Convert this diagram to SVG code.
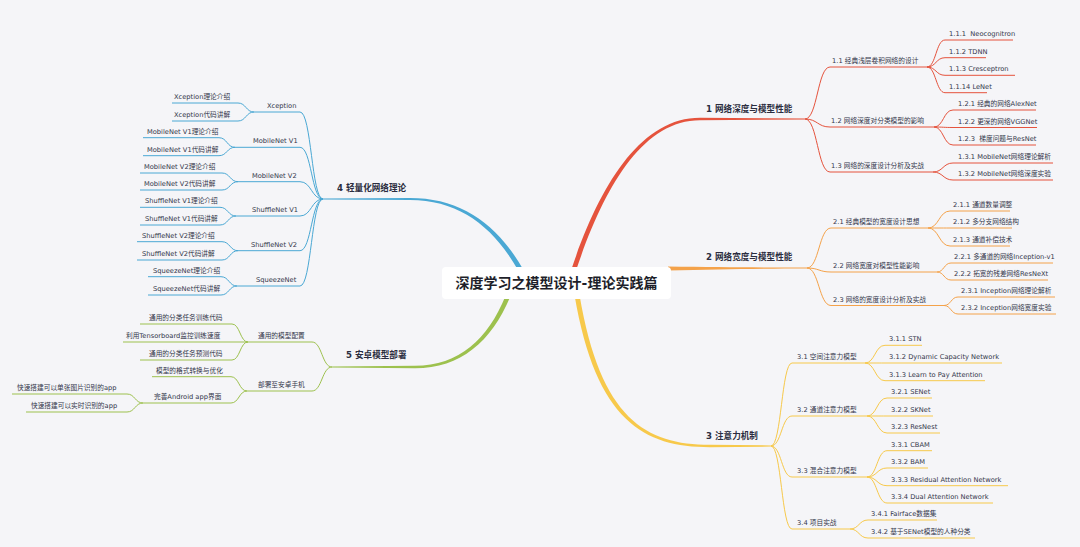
<svg xmlns="http://www.w3.org/2000/svg" width="1080" height="547" viewBox="0 0 1080 547">
<style>
.t{font-family:"DejaVu Sans","Noto Sans CJK SC",sans-serif;font-size:6.7px;fill:#33364a;white-space:pre}
.h{font-family:"DejaVu Sans","Noto Sans CJK SC",sans-serif;font-size:8.6px;font-weight:bold;fill:#2b2d40}
.c{font-family:"DejaVu Sans","Noto Sans CJK SC",sans-serif;font-size:14px;font-weight:bold;fill:#1e1f2a}
.l{fill:none;stroke-width:1}
.r{stroke:#e5533d}.o{stroke:#f4a24a}.y{stroke:#f7c94b}.b{stroke:#4aa8d4}.g{stroke:#9dc14e}
</style>
<rect width="1080" height="547" fill="#f5f5f8"/>
<g id="connectors">
<path fill="#e5533d" d="M570.5,272 C598,189 639,117.8 700,117.8 L805,118.4 L805,119.6 L700,120.2 C641,120.2 602.5,191 575.5,272 Z"/>
<path fill="#f4a24a" d="M668,266.5 C720,267 760,267.6 807,267.6 L807,268.6 C760,268.6 720,269.5 668,270.5 Z"/>
<path fill="#f7c94b" d="M574.5,295 C596,421 644,447.2 710,447.2 L771,446.6 L771,445.4 L710,444.8 C646,444.8 600.5,419 579.5,295 Z"/>
<path fill="#4aa8d4" d="M523.5,270 C497,223.5 461,197.9 410,197.9 L323,198.4 L323,199.6 L410,200.1 C459,200.1 493,226.5 518,270 Z"/>
<path fill="#9dc14e" d="M505.5,296 C488,339 459,365.8 415,365.8 L332,366.4 L332,367.6 L415,368.2 C461,368.2 492,341 510.5,296 Z"/>
<g class="l r">
<path d="M805,119 C817.5,119 817.5,67 830,67 H927"/>
<path d="M805,119 C817.5,119 817.5,127 830,127 H934"/>
<path d="M805,119 C817.5,119 817.5,172 830,172 H933"/>
<path d="M927,67 C936,67 936,40 945,40 H1013"/>
<path d="M927,67 C936,67 936,57.7 945,57.7 H986"/>
<path d="M927,67 C936,67 936,75.3 945,75.3 H1015"/>
<path d="M927,67 C936,67 936,92.7 945,92.7 H987"/>
<path d="M934,127 C943.5,127 943.5,110 953,110 H1036"/>
<path d="M934,127 C943.5,127 943.5,127.5 953,127.5 H1037"/>
<path d="M934,127 C943.5,127 943.5,145 953,145 H1036"/>
<path d="M933,172 C943,172 943,163 953,163 H1053"/>
<path d="M933,172 C943,172 943,180 953,180 H1053"/>
</g>
<g class="l o">
<path d="M807,268 C819,268 819,228 831,228 H928"/>
<path d="M807,268 C819,268 819,272 831,272 H937"/>
<path d="M807,268 C819,268 819,305.5 831,305.5 H944"/>
<path d="M928,228 C939,228 939,211 950,211 H1010"/>
<path d="M928,228 C939,228 939,228 950,228 H1012"/>
<path d="M928,228 C939,228 939,246 950,246 H1010"/>
<path d="M937,272 C944,272 944,263 951,263 H1053"/>
<path d="M937,272 C944,272 944,280 951,280 H1048"/>
<path d="M944,305.5 C951,305.5 951,297 958,297 H1055"/>
<path d="M944,305.5 C951,305.5 951,314 958,314 H1056"/>
</g>
<g class="l y">
<path d="M771,446 C781.5,446 781.5,363 792,363 H865"/>
<path d="M771,446 C781.5,446 781.5,416 792,416 H867"/>
<path d="M771,446 C781.5,446 781.5,477 792,477 H867"/>
<path d="M771,446 C781.5,446 781.5,529 792,529 H850"/>
<path d="M865,363 C875,363 875,345.3 885,345.3 H922"/>
<path d="M865,363 C875,363 875,363 885,363 H1002"/>
<path d="M865,363 C875,363 875,380.7 885,380.7 H985"/>
<path d="M867,416 C877,416 877,398 887,398 H932"/>
<path d="M867,416 C877,416 877,416 887,416 H933"/>
<path d="M867,416 C877,416 877,433 887,433 H940"/>
<path d="M867,477 C877,477 877,450.7 887,450.7 H932"/>
<path d="M867,477 C877,477 877,468 887,468 H928"/>
<path d="M867,477 C877,477 877,485.7 887,485.7 H1008"/>
<path d="M867,477 C877,477 877,503 887,503 H993"/>
<path d="M850,529 C859,529 859,520 868,520 H937"/>
<path d="M850,529 C859,529 859,538 868,538 H975"/>
</g>
<g class="l b">
<path d="M323,199 C311.5,199 311.5,112 300,112 H254"/>
<path d="M323,199 C311.5,199 311.5,147.3 300,147.3 H235"/>
<path d="M323,199 C311.5,199 311.5,181.7 300,181.7 H238"/>
<path d="M323,199 C311.5,199 311.5,216 300,216 H236"/>
<path d="M323,199 C311.5,199 311.5,250.7 300,250.7 H238"/>
<path d="M323,199 C311.5,199 311.5,286 300,286 H237"/>
<path d="M254,112 C246,112 246,103 238,103 H172"/>
<path d="M254,112 C246,112 246,121 238,121 H172"/>
<path d="M235,147.3 C227,147.3 227,137.7 219,137.7 H143"/>
<path d="M235,147.3 C227,147.3 227,155.7 219,155.7 H143"/>
<path d="M238,181.7 C230,181.7 230,173 222,173 H140"/>
<path d="M238,181.7 C230,181.7 230,190 222,190 H140"/>
<path d="M236,216 C228,216 228,207.3 220,207.3 H140"/>
<path d="M236,216 C228,216 228,225 220,225 H140"/>
<path d="M238,250.7 C230,250.7 230,241.7 222,241.7 H137"/>
<path d="M238,250.7 C230,250.7 230,260 222,260 H137"/>
<path d="M237,286 C229,286 229,276.7 221,276.7 H148"/>
<path d="M237,286 C229,286 229,295 221,295 H148"/>
</g>
<g class="l g">
<path d="M332,367 C322,367 322,342 312,342 H248"/>
<path d="M332,367 C322,367 322,391 312,391 H247"/>
<path d="M248,342 C240,342 240,324 232,324 H140"/>
<path d="M248,342 H123"/>
<path d="M248,342 C240,342 240,360 232,360 H140"/>
<path d="M247,391 C239,391 239,376.7 231,376.7 H152"/>
<path d="M247,391 C239,391 239,403 231,403 H143"/>
<path d="M143,403 C135,403 135,394 127,394 H12"/>
<path d="M143,403 C135,403 135,412 127,412 H26"/>
</g>
</g>
<g id="root">
<rect x="442" y="267" width="229" height="32" rx="4" fill="#ffffff"/>
<text class="c" x="556.5" y="288" text-anchor="middle">深度学习之模型设计-理论实践篇</text>
</g>
<g id="b1">
<text class="h" x="706" y="112">1 网络深度与模型性能</text>
</g>
<g id="b1-1"><text class="t" x="832" y="63">1.1 经典浅层卷积网络的设计</text></g>
<g id="b1-1-1"><text class="t" x="949" y="36" xml:space="preserve">1.1.1  Neocognitron</text></g>
<g id="b1-1-2"><text class="t" x="949" y="53.7">1.1.2 TDNN</text></g>
<g id="b1-1-3"><text class="t" x="949" y="71.3">1.1.3 Cresceptron</text></g>
<g id="b1-1-4"><text class="t" x="949" y="88.7">1.1.14 LeNet</text></g>
<g id="b1-2"><text class="t" x="831" y="123">1.2 网络深度对分类模型的影响</text></g>
<g id="b1-2-1"><text class="t" x="958" y="106">1.2.1 经典的网络AlexNet</text></g>
<g id="b1-2-2"><text class="t" x="958" y="123.5">1.2.2 更深的网络VGGNet</text></g>
<g id="b1-2-3"><text class="t" x="958" y="141" xml:space="preserve">1.2.3  梯度问题与ResNet</text></g>
<g id="b1-3"><text class="t" x="831" y="168">1.3 网络的深度设计分析及实战</text></g>
<g id="b1-3-1"><text class="t" x="958" y="159">1.3.1 MobileNet网络理论解析</text></g>
<g id="b1-3-2"><text class="t" x="958" y="176">1.3.2 MobileNet网络深度实验</text></g>
<g id="b2">
<text class="h" x="706" y="259.5">2 网络宽度与模型性能</text>
</g>
<g id="b2-1"><text class="t" x="833" y="224">2.1 经典模型的宽度设计思想</text></g>
<g id="b2-1-1"><text class="t" x="953" y="207">2.1.1 通道数量调整</text></g>
<g id="b2-1-2"><text class="t" x="953" y="224">2.1.2 多分支网络结构</text></g>
<g id="b2-1-3"><text class="t" x="953" y="242">2.1.3 通道补偿技术</text></g>
<g id="b2-2"><text class="t" x="833" y="268">2.2 网络宽度对模型性能影响</text></g>
<g id="b2-2-1"><text class="t" x="954" y="259">2.2.1 多通道的网络Inception-v1</text></g>
<g id="b2-2-2"><text class="t" x="954" y="276">2.2.2 拓宽的残差网络ResNeXt</text></g>
<g id="b2-3"><text class="t" x="833" y="301.5">2.3 网络的宽度设计分析及实战</text></g>
<g id="b2-3-1"><text class="t" x="961" y="293">2.3.1 Inception网络理论解析</text></g>
<g id="b2-3-2"><text class="t" x="961" y="310">2.3.2 Inception网络宽度实验</text></g>
<g id="b3">
<text class="h" x="706" y="438.5">3 注意力机制</text>
</g>
<g id="b3-1"><text class="t" x="797" y="359">3.1 空间注意力模型</text></g>
<g id="b3-1-1"><text class="t" x="889" y="341.3">3.1.1 STN</text></g>
<g id="b3-1-2"><text class="t" x="889" y="359">3.1.2 Dynamic Capacity Network</text></g>
<g id="b3-1-3"><text class="t" x="889" y="376.7">3.1.3 Learn to Pay Attention</text></g>
<g id="b3-2"><text class="t" x="797" y="412">3.2 通道注意力模型</text></g>
<g id="b3-2-1"><text class="t" x="891" y="394">3.2.1 SENet</text></g>
<g id="b3-2-2"><text class="t" x="891" y="412">3.2.2 SKNet</text></g>
<g id="b3-2-3"><text class="t" x="891" y="429">3.2.3 ResNest</text></g>
<g id="b3-3"><text class="t" x="797" y="473">3.3 混合注意力模型</text></g>
<g id="b3-3-1"><text class="t" x="891" y="446.7">3.3.1 CBAM</text></g>
<g id="b3-3-2"><text class="t" x="891" y="464">3.3.2 BAM</text></g>
<g id="b3-3-3"><text class="t" x="891" y="481.7">3.3.3 Residual Attention Network</text></g>
<g id="b3-3-4"><text class="t" x="891" y="499">3.3.4 Dual Attention Network</text></g>
<g id="b3-4"><text class="t" x="797" y="525">3.4 项目实战</text></g>
<g id="b3-4-1"><text class="t" x="871" y="516">3.4.1 Fairface数据集</text></g>
<g id="b3-4-2"><text class="t" x="871" y="534">3.4.2 基于SENet模型的人种分类</text></g>
<g id="b4">
<text class="h" x="337" y="191">4 轻量化网络理论</text>
</g>
<g id="b4-1"><text class="t" x="267" y="108">Xception</text></g>
<g id="b4-1-1"><text class="t" x="174" y="99">Xception理论介绍</text></g>
<g id="b4-1-2"><text class="t" x="174" y="117">Xception代码讲解</text></g>
<g id="b4-2"><text class="t" x="253" y="143.3">MobileNet V1</text></g>
<g id="b4-2-1"><text class="t" x="147" y="133.7">MobileNet V1理论介绍</text></g>
<g id="b4-2-2"><text class="t" x="147" y="151.7">MobileNet V1代码讲解</text></g>
<g id="b4-3"><text class="t" x="252" y="177.7">MobileNet V2</text></g>
<g id="b4-3-1"><text class="t" x="144" y="169">MobileNet V2理论介绍</text></g>
<g id="b4-3-2"><text class="t" x="144" y="186">MobileNet V2代码讲解</text></g>
<g id="b4-4"><text class="t" x="252" y="212">ShuffleNet V1</text></g>
<g id="b4-4-1"><text class="t" x="145" y="203.3">ShuffleNet V1理论介绍</text></g>
<g id="b4-4-2"><text class="t" x="145" y="221">ShuffleNet V1代码讲解</text></g>
<g id="b4-5"><text class="t" x="251" y="246.7">ShuffleNet V2</text></g>
<g id="b4-5-1"><text class="t" x="142" y="237.7">ShuffleNet V2理论介绍</text></g>
<g id="b4-5-2"><text class="t" x="142" y="256">ShuffleNet V2代码讲解</text></g>
<g id="b4-6"><text class="t" x="256" y="282">SqueezeNet</text></g>
<g id="b4-6-1"><text class="t" x="153" y="272.7">SqueezeNet理论介绍</text></g>
<g id="b4-6-2"><text class="t" x="153" y="291">SqueezeNet代码讲解</text></g>
<g id="b5">
<text class="h" x="346" y="358">5 安卓模型部署</text>
</g>
<g id="b5-1"><text class="t" x="258" y="338">通用的模型配置</text></g>
<g id="b5-1-1"><text class="t" x="149" y="320">通用的分类任务训练代码</text></g>
<g id="b5-1-2"><text class="t" x="126" y="338">利用Tensorboard监控训练速度</text></g>
<g id="b5-1-3"><text class="t" x="149" y="356">通用的分类任务预测代码</text></g>
<g id="b5-2"><text class="t" x="258" y="387">部署至安卓手机</text></g>
<g id="b5-2-1"><text class="t" x="156" y="372.7">模型的格式转换与优化</text></g>
<g id="b5-2-2"><text class="t" x="154" y="399">完善Android app界面</text></g>
<g id="b5-2-2-1"><text class="t" x="17" y="390">快速搭建可以单张图片识别的app</text></g>
<g id="b5-2-2-2"><text class="t" x="31" y="408">快速搭建可以实时识别的app</text></g>
</svg>
